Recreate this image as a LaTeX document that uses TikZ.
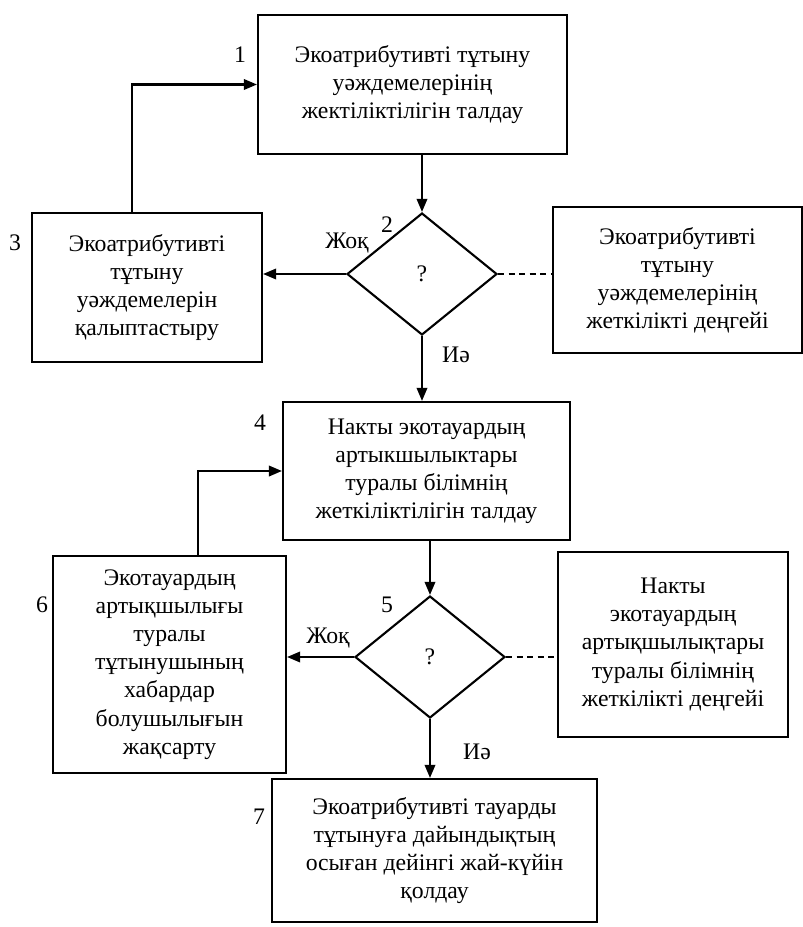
\documentclass[tikz,border=0pt]{standalone}
\usepackage{fontspec}
\setmainfont{Liberation Serif}
\usetikzlibrary{arrows.meta}
\usetikzlibrary{shapes.geometric}

\begin{document}
\begin{tikzpicture}
	[x=0.02cm,y=-0.02cm,
	 every node/.style={font=\fontsize{13.5}{16}\selectfont},
	 stagebox/.style={draw, line width=1.2pt, align=center, inner sep=2pt},
	 checkdia/.style={draw, diamond, line width=1.2pt, inner sep=0pt, minimum width=3cm, minimum height=2.44cm},
	 arr/.style={line width=1.2pt, -{Triangle[length=7.5pt,width=6pt]}},
	 dotline/.style={line width=0.9pt, dash pattern=on 3.5pt off 2.5pt}];

	\useasboundingbox (0,0) rectangle (803,927);

	%Boxes
	\node[stagebox, minimum width=6.18cm, minimum height=2.78cm] (b1) at (412.5,84.5)
		{Экоатрибутивті тұтыну\\уәждемелерінің\\жектіліктілігін талдау};
	\node[checkdia] (d2) at (422,274) {?};
	\node[stagebox, minimum width=4.6cm, minimum height=2.98cm] (b3) at (147,287.5)
		{Экоатрибутивті\\тұтыну\\уәждемелерін\\қалыптастыру};
	\node[stagebox, minimum width=4.98cm, minimum height=2.92cm] (lvl1) at (677.5,280)
		{Экоатрибутивті\\тұтыну\\уәждемелерінің\\жеткілікті деңгейі};
	\node[stagebox, minimum width=5.74cm, minimum height=2.76cm] (b4) at (426.5,471)
		{Накты экотауардың\\артыкшылыктары\\туралы білімнің\\жеткіліктілігін талдау};
	\node[checkdia] (d5) at (430,657) {?};
	\node[stagebox, minimum width=4.66cm, minimum height=4.34cm] (b6) at (169.5,664.5)
		{Экотауардың\\артықшылығы\\туралы\\тұтынушының\\хабардар\\болушылығын\\жақсарту};
	\node[stagebox, minimum width=4.6cm, minimum height=3.7cm] (lvl2) at (673,644.5)
		{Накты\\экотауардың\\артықшылықтары\\туралы білімнің\\жеткілікті деңгейі};
	\node[stagebox, minimum width=6.5cm, minimum height=2.86cm] (b7) at (434.5,850.5)
		{Экоатрибутивті тауарды\\тұтынуға дайындықтың\\осыған дейінгі жай-күйін\\қолдау};

	%Numbers
	\node (n1) at (240,55) {1};
	\node (n2) at (387,225) {2};
	\node (n3) at (15,243) {3};
	\node (n4) at (260,423) {4};
	\node (n5) at (387,605) {5};
	\node (n6) at (42,605) {6};
	\node (n7) at (259,817) {7};

	%Answers
	\node (no2) at (347,243) {Жоқ};
	\node (yes2) at (456,355) {Иә};
	\node (no5) at (328,638) {Жоқ};
	\node (yes5) at (477,752) {Иә};

	%Arrows
	\draw[arr] (d2.north |- b1.south) -- (d2.north);
	\draw[arr] (d2.west) -- (d2.west -| b3.east);
	\draw[dotline] (d2.east) -- (d2.east -| lvl1.west);
	\draw[arr] ([xshift=-0.3cm]b3.north) |- (b1.west);
	\draw[arr] (d2.south) -- (d2.south |- b4.north);
	\draw[arr] (d5.north |- b4.south) -- (d5.north);
	\draw[arr] (d5.west) -- (d5.west -| b6.east);
	\draw[dotline] (d5.east) -- (d5.east -| lvl2.west);
	\draw[arr] ([xshift=0.57cm]b6.north) |- (b4.west);
	\draw[arr] (d5.south) -- (d5.south |- b7.north);
\end{tikzpicture}
\end{document}
